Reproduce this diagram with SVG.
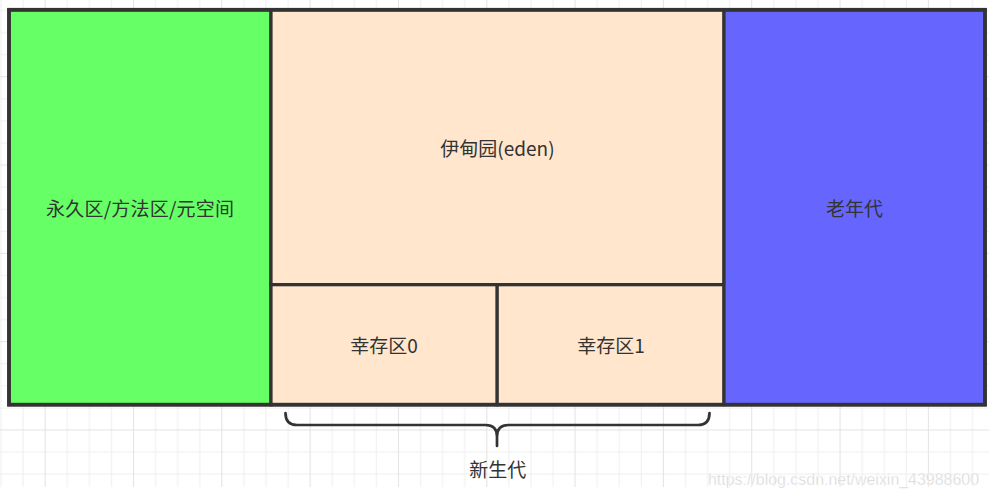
<svg xmlns="http://www.w3.org/2000/svg" width="989" height="497" viewBox="0 0 989 497">
<style>
.box{stroke:#333333;stroke-width:3.2}
.lbl{font-family:"Noto Sans CJK SC","Microsoft YaHei","Noto Sans",sans-serif;font-size:19px;fill:#333333;text-anchor:middle}
.brace{fill:none;stroke:#333333;stroke-width:2.7;stroke-linecap:round;stroke-linejoin:round}
</style>
<defs>
<pattern id="grid" patternUnits="userSpaceOnUse" x="44.66" y="76.22" width="88.32" height="88.32">
<rect x="0" y="0" width="88.32" height="88.32" fill="#ffffff"/>
<rect x="22.08" y="0" width="1" height="88.32" fill="#efefef"/>
<rect x="44.16" y="0" width="1" height="88.32" fill="#efefef"/>
<rect x="66.24" y="0" width="1" height="88.32" fill="#efefef"/>
<rect x="0" y="22.08" width="88.32" height="1" fill="#efefef"/>
<rect x="0" y="44.16" width="88.32" height="1" fill="#efefef"/>
<rect x="0" y="66.24" width="88.32" height="1" fill="#efefef"/>
<rect x="0" y="0" width="1" height="88.32" fill="#e3e3e3"/>
<rect x="0" y="0" width="88.32" height="1" fill="#e3e3e3"/>
</pattern>
</defs>
<rect x="0" y="0" width="989" height="497" fill="#ffffff"/>
<rect x="0" y="0" width="989" height="487" fill="url(#grid)"/>

<g id="permgen">
<rect class="box" x="9" y="9.8" width="262" height="394.9" fill="#66ff66"/>
<text class="lbl" x="140" y="215.5" fill="#1f1f1f" textLength="188" lengthAdjust="spacing">永久区/方法区/元空间</text>
</g>
<g id="eden">
<rect class="box" x="271" y="9.8" width="453" height="274.9" fill="#ffe6cc"/>
<text class="lbl" x="497.5" y="156.2">伊甸园(eden)</text>
</g>
<g id="survivor0">
<rect class="box" x="271" y="284.7" width="226.2" height="120" fill="#ffe6cc"/>
<text class="lbl" x="384" y="353.2">幸存区0</text>
</g>
<g id="survivor1">
<rect class="box" x="497.2" y="284.7" width="226.8" height="120" fill="#ffe6cc"/>
<text class="lbl" x="611" y="353.2">幸存区1</text>
</g>
<g id="oldgen">
<rect class="box" x="724" y="9.8" width="261" height="394.9" fill="#6666ff"/>
<text class="lbl" x="854.6" y="215.5">老年代</text>
</g>
<rect x="9" y="9.8" width="976" height="394.9" fill="none" stroke="#333333" stroke-width="3.8"/>

<g id="connectors">
<path class="brace" d="M285.5,413 Q285.5,425 297,425 L485.5,425 Q497,425 497,436.5 L497,446 M497,436.5 Q497,425 508.5,425 L698,425 Q709.5,425 709.5,413"/>
</g>
<g id="young-label">
<text class="lbl" x="497.7" y="477">新生代</text>
</g>
<text x="708" y="484.5" font-family="'Liberation Sans',Arial,sans-serif" font-size="16" fill="#d4d4d4" stroke="#ffffff" stroke-width="0.4" textLength="271" lengthAdjust="spacingAndGlyphs">https://blog.csdn.net/weixin_43988600</text>
</svg>
